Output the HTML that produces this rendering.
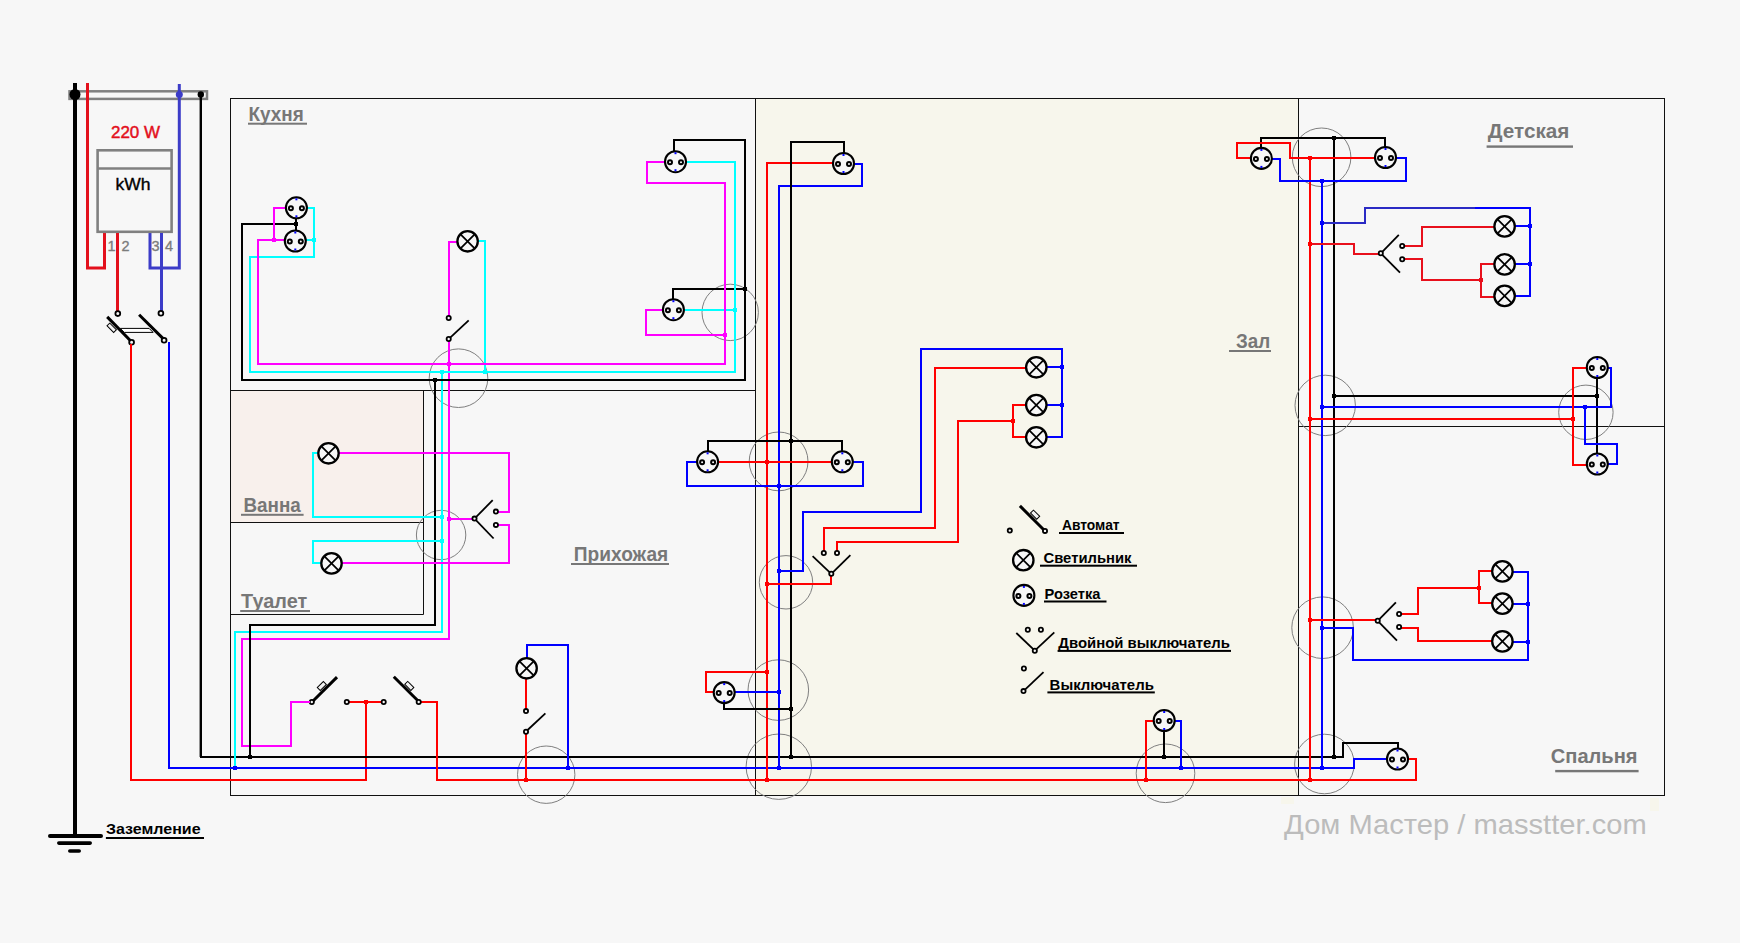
<!DOCTYPE html>
<html><head><meta charset="utf-8"><title>Схема электропроводки</title>
<style>
html,body{margin:0;padding:0;background:#f7f7f7;}
body{width:1740px;height:943px;overflow:hidden;font-family:"Liberation Sans",sans-serif;}
svg{display:block;}
</style></head>
<body>
<svg width="1740" height="943" viewBox="0 0 1740 943">
<rect x="0" y="0" width="1740" height="943" fill="#f7f7f7"/>
<rect x="756" y="99" width="542.5" height="696" fill="#f7f6ec"/>
<rect x="231" y="391" width="192.5" height="131" fill="#f8f0ec"/>
<rect x="1281" y="797" width="13" height="7" fill="#f7f6ec"/>
<rect x="1650" y="798" width="9" height="13" fill="#f7f6ec"/>
<rect x="230.5" y="98.5" width="1434" height="697" fill="none" stroke="#111" stroke-width="1"/>
<line x1="230.5" y1="390.5" x2="755.5" y2="390.5" stroke="#111" stroke-width="1" stroke-linecap="butt"/>
<line x1="755.5" y1="98.5" x2="755.5" y2="795.5" stroke="#111" stroke-width="1" stroke-linecap="butt"/>
<line x1="1298.5" y1="98.5" x2="1298.5" y2="795.5" stroke="#111" stroke-width="1" stroke-linecap="butt"/>
<line x1="1298.5" y1="426.5" x2="1664.5" y2="426.5" stroke="#111" stroke-width="1" stroke-linecap="butt"/>
<line x1="423.5" y1="390.5" x2="423.5" y2="614.5" stroke="#111" stroke-width="1" stroke-linecap="butt"/>
<line x1="230.5" y1="522.5" x2="423.5" y2="522.5" stroke="#111" stroke-width="1" stroke-linecap="butt"/>
<line x1="230.5" y1="614.5" x2="423.5" y2="614.5" stroke="#111" stroke-width="1" stroke-linecap="butt"/>
<circle cx="458.5" cy="378.2" r="29.3" fill="none" stroke="#7f7f7f" stroke-width="1"/>
<circle cx="730.2" cy="312.4" r="28.2" fill="none" stroke="#7f7f7f" stroke-width="1"/>
<circle cx="441.1" cy="535" r="24.7" fill="none" stroke="#7f7f7f" stroke-width="1"/>
<circle cx="546.2" cy="774.7" r="28.7" fill="none" stroke="#7f7f7f" stroke-width="1"/>
<circle cx="778.6" cy="461.4" r="29.4" fill="none" stroke="#7f7f7f" stroke-width="1"/>
<circle cx="786" cy="582.3" r="26.7" fill="none" stroke="#7f7f7f" stroke-width="1"/>
<circle cx="778.3" cy="690.1" r="30.3" fill="none" stroke="#7f7f7f" stroke-width="1"/>
<circle cx="778.8" cy="766.7" r="32.7" fill="none" stroke="#7f7f7f" stroke-width="1"/>
<circle cx="1165.5" cy="773.3" r="29.3" fill="none" stroke="#7f7f7f" stroke-width="1"/>
<circle cx="1321.6" cy="157.3" r="29.3" fill="none" stroke="#7f7f7f" stroke-width="1"/>
<circle cx="1325.2" cy="405.4" r="30.2" fill="none" stroke="#7f7f7f" stroke-width="1"/>
<circle cx="1585.9" cy="412.3" r="27.2" fill="none" stroke="#7f7f7f" stroke-width="1"/>
<circle cx="1322.6" cy="627.7" r="30.8" fill="none" stroke="#7f7f7f" stroke-width="1"/>
<circle cx="1324.4" cy="764" r="29.8" fill="none" stroke="#7f7f7f" stroke-width="1"/>
<rect x="69.5" y="91.3" width="137.5" height="7.6" fill="none" stroke="#808080" stroke-width="2.5"/>
<line x1="75" y1="83" x2="75" y2="836" stroke="#000000" stroke-width="4" stroke-linecap="butt"/>
<rect x="48" y="834" width="55" height="4" rx="2" fill="#000000"/>
<rect x="57" y="841.3" width="35" height="3.6" rx="1.8" fill="#000000"/>
<rect x="68" y="849.2" width="13" height="3.6" rx="1.8" fill="#000000"/>
<circle cx="75" cy="94.5" r="5.5" fill="#000000"/>
<polyline points="87.5,84.5 87.5,268 104.5,268 104.5,233" fill="none" stroke="#e3101c" stroke-width="3" stroke-linejoin="miter" stroke-linecap="square"/>
<polyline points="179.3,85.5 179.3,268 150,268 150,233" fill="none" stroke="#3c3cc8" stroke-width="3" stroke-linejoin="miter" stroke-linecap="square"/>
<circle cx="179.3" cy="94.5" r="3.5" fill="#3c3cc8"/>
<line x1="200.8" y1="94" x2="200.8" y2="757" stroke="#000000" stroke-width="2.4" stroke-linecap="butt"/>
<circle cx="200.8" cy="94.5" r="3.2" fill="#000000"/>
<rect x="97.6" y="150.3" width="74" height="81.5" fill="none" stroke="#808080" stroke-width="2.6"/>
<line x1="97.6" y1="168.5" x2="171.6" y2="168.5" stroke="#808080" stroke-width="2.6" stroke-linecap="butt"/>
<text x="111" y="138" font-family="Liberation Sans, sans-serif" font-size="16" font-weight="normal" fill="#e3101c" textLength="49" lengthAdjust="spacingAndGlyphs" stroke="#e3101c" stroke-width="0.45" text-anchor="start">220 W</text>
<text x="115.6" y="189.7" font-family="Liberation Sans, sans-serif" font-size="16.5" font-weight="normal" fill="#000000" textLength="35" lengthAdjust="spacingAndGlyphs" stroke="#000000" stroke-width="0.35" text-anchor="start">kWh</text>
<text x="107.5" y="250.6" font-family="Liberation Sans, sans-serif" font-size="14.5" font-weight="normal" fill="#7c7c7c" stroke="#7c7c7c" stroke-width="0.35" text-anchor="start">1</text>
<text x="121.5" y="250.6" font-family="Liberation Sans, sans-serif" font-size="14.5" font-weight="normal" fill="#7c7c7c" stroke="#7c7c7c" stroke-width="0.35" text-anchor="start">2</text>
<text x="151.5" y="250.6" font-family="Liberation Sans, sans-serif" font-size="14.5" font-weight="normal" fill="#7c7c7c" stroke="#7c7c7c" stroke-width="0.35" text-anchor="start">3</text>
<text x="165" y="250.6" font-family="Liberation Sans, sans-serif" font-size="14.5" font-weight="normal" fill="#7c7c7c" stroke="#7c7c7c" stroke-width="0.35" text-anchor="start">4</text>
<line x1="117.5" y1="233" x2="117.5" y2="311" stroke="#e3101c" stroke-width="3" stroke-linecap="butt"/>
<line x1="161.5" y1="233" x2="161.5" y2="311" stroke="#3c3cc8" stroke-width="3" stroke-linecap="butt"/>
<rect x="107.0" y="325.85" width="9.4" height="3.9" fill="#f2f2f2" stroke="#000000" stroke-width="1" transform="rotate(45 111.7 327.8)"/>
<line x1="107.2" y1="316.9" x2="131" y2="341.3" stroke="#000000" stroke-width="3" stroke-linecap="butt"/>
<line x1="139.1" y1="314.8" x2="163.9" y2="339.4" stroke="#000000" stroke-width="3" stroke-linecap="butt"/>
<path d="M120.3,328.4L149.1,328.4L153.1,332.4L124.3,332.4Z" fill="#fff" stroke="#000000" stroke-width="1"/>
<circle cx="117.8" cy="313.6" r="2.4" fill="#f7f7f7" stroke="#000000" stroke-width="1.8"/>
<circle cx="160.9" cy="313.2" r="2.4" fill="#f7f7f7" stroke="#000000" stroke-width="1.8"/>
<circle cx="131.6" cy="342.2" r="2.4" fill="#f7f7f7" stroke="#000000" stroke-width="1.8"/>
<circle cx="164.1" cy="340.2" r="2.4" fill="#f7f7f7" stroke="#000000" stroke-width="1.8"/>
<polyline points="131,345 131,780 366,780 366,702" fill="none" stroke="#ff0000" stroke-width="2" stroke-linejoin="miter" stroke-linecap="square"/>
<polyline points="169,343 169,768 1322,768" fill="none" stroke="#0000ff" stroke-width="2" stroke-linejoin="miter" stroke-linecap="square"/>
<polyline points="201,757 1334,757" fill="none" stroke="#000000" stroke-width="2" stroke-linejoin="miter" stroke-linecap="square"/>
<polyline points="437,702 437,780 1310,780" fill="none" stroke="#ff0000" stroke-width="2" stroke-linejoin="miter" stroke-linecap="square"/>
<line x1="346.8" y1="702" x2="383.7" y2="702" stroke="#ff0000" stroke-width="2" stroke-linecap="butt"/>
<rect x="364.0" y="700.0" width="4" height="4" fill="#ff0000"/>
<circle cx="346.8" cy="702" r="2.1" fill="#f7f7f7" stroke="#000000" stroke-width="1.8"/>
<circle cx="383.7" cy="702" r="2.1" fill="#f7f7f7" stroke="#000000" stroke-width="1.8"/>
<rect x="317.5" y="683.9" width="8.6" height="4.2" fill="#f2f2f2" stroke="#000000" stroke-width="1" transform="rotate(-45 321.8 686)"/>
<line x1="312" y1="702" x2="337" y2="677.1" stroke="#000000" stroke-width="3" stroke-linecap="butt"/>
<rect x="405.0" y="683.8" width="8.6" height="4.2" fill="#f2f2f2" stroke="#000000" stroke-width="1" transform="rotate(45 409.3 685.9)"/>
<line x1="419.2" y1="702" x2="393.8" y2="676.7" stroke="#000000" stroke-width="3" stroke-linecap="butt"/>
<polyline points="419,702 437,702" fill="none" stroke="#ff0000" stroke-width="2" stroke-linejoin="miter" stroke-linecap="square"/>
<circle cx="311.8" cy="702" r="2.1" fill="#f7f7f7" stroke="#000000" stroke-width="1.8"/>
<circle cx="418.7" cy="702" r="2.1" fill="#f7f7f7" stroke="#000000" stroke-width="1.8"/>
<polyline points="309,702 291,702 291,746 242,746 242,639 449,639 449,342" fill="none" stroke="#ff00ff" stroke-width="2" stroke-linejoin="miter" stroke-linecap="square"/>
<polyline points="449,242 449,316" fill="none" stroke="#ff00ff" stroke-width="2" stroke-linejoin="miter" stroke-linecap="square"/>
<polyline points="442,372 442,632 235,632 235,768" fill="none" stroke="#00ffff" stroke-width="2" stroke-linejoin="miter" stroke-linecap="square"/>
<rect x="233.0" y="766.0" width="4" height="4" fill="#0000ff"/>
<polyline points="435,380 435,625 250,625 250,757" fill="none" stroke="#000000" stroke-width="2" stroke-linejoin="miter" stroke-linecap="square"/>
<rect x="248.0" y="755.0" width="4" height="4" fill="#000000"/>
<polyline points="242,224 242,380 745,380 745,140 674,140 674,151" fill="none" stroke="#000000" stroke-width="2" stroke-linejoin="miter" stroke-linecap="square"/>
<polyline points="242,224 296,224" fill="none" stroke="#000000" stroke-width="2" stroke-linejoin="miter" stroke-linecap="square"/>
<line x1="296" y1="218.5" x2="296" y2="230.5" stroke="#000000" stroke-width="2" stroke-linecap="butt"/>
<rect x="294.0" y="222.0" width="4" height="4" fill="#000000"/>
<polyline points="745,289 673,289 673,299" fill="none" stroke="#000000" stroke-width="2" stroke-linejoin="miter" stroke-linecap="square"/>
<rect x="743.0" y="287.0" width="4" height="4" fill="#000000"/>
<rect x="433.0" y="378.0" width="4" height="4" fill="#000000"/>
<polyline points="314,208 314,257 250,257 250,372 735,372 735,162 686,162" fill="none" stroke="#00ffff" stroke-width="2" stroke-linejoin="miter" stroke-linecap="square"/>
<polyline points="306,240 314,240" fill="none" stroke="#00ffff" stroke-width="2" stroke-linejoin="miter" stroke-linecap="square"/>
<rect x="312.0" y="238.0" width="4" height="4" fill="#00ffff"/>
<polyline points="735,310 684,310" fill="none" stroke="#00ffff" stroke-width="2" stroke-linejoin="miter" stroke-linecap="square"/>
<rect x="733.0" y="308.0" width="4" height="4" fill="#00ffff"/>
<polyline points="478,241 485,241 485,372" fill="none" stroke="#00ffff" stroke-width="2" stroke-linejoin="miter" stroke-linecap="square"/>
<rect x="483.0" y="370.0" width="4" height="4" fill="#00ffff"/>
<rect x="440.0" y="370.0" width="4" height="4" fill="#00ffff"/>
<polyline points="307,208 314,208" fill="none" stroke="#00ffff" stroke-width="2" stroke-linejoin="miter" stroke-linecap="square"/>
<polyline points="285,208 274,208 274,240" fill="none" stroke="#ff00ff" stroke-width="2" stroke-linejoin="miter" stroke-linecap="square"/>
<polyline points="284,240 258,240 258,364 725,364 725,183 647,183 647,162 665,162" fill="none" stroke="#ff00ff" stroke-width="2" stroke-linejoin="miter" stroke-linecap="square"/>
<rect x="272.0" y="238.0" width="4" height="4" fill="#ff00ff"/>
<polyline points="663,310 646,310 646,335 725,335" fill="none" stroke="#ff00ff" stroke-width="2" stroke-linejoin="miter" stroke-linecap="square"/>
<rect x="723.0" y="333.0" width="4" height="4" fill="#ff00ff"/>
<rect x="447.0" y="362.0" width="4" height="4" fill="#ff00ff"/>
<polyline points="449,242 456,242" fill="none" stroke="#ff00ff" stroke-width="2" stroke-linejoin="miter" stroke-linecap="square"/>
<circle cx="448.7" cy="318" r="2.1" fill="#f7f7f7" stroke="#000000" stroke-width="1.8"/>
<circle cx="448.7" cy="339" r="2.1" fill="#f7f7f7" stroke="#000000" stroke-width="1.8"/>
<line x1="450.2" y1="337.6" x2="468.7" y2="320.3" stroke="#000000" stroke-width="1.8" stroke-linecap="butt"/>
<circle cx="296.4" cy="207.8" r="10.5" fill="#f7f7f7" stroke="#000000" stroke-width="2.1"/>
<circle cx="290.9" cy="208.3" r="2" fill="#f7f7f7" stroke="#000000" stroke-width="2"/>
<circle cx="301.9" cy="208.3" r="2" fill="#f7f7f7" stroke="#000000" stroke-width="2"/>
<rect x="295.4" y="198.3" width="2" height="2" fill="#0000ff"/>
<rect x="295.4" y="215.3" width="2" height="2" fill="#0000ff"/>
<circle cx="295.3" cy="241" r="10.5" fill="#f7f7f7" stroke="#000000" stroke-width="2.1"/>
<circle cx="289.8" cy="241.5" r="2" fill="#f7f7f7" stroke="#000000" stroke-width="2"/>
<circle cx="300.8" cy="241.5" r="2" fill="#f7f7f7" stroke="#000000" stroke-width="2"/>
<rect x="294.3" y="231.5" width="2" height="2" fill="#0000ff"/>
<rect x="294.3" y="248.5" width="2" height="2" fill="#0000ff"/>
<circle cx="467.6" cy="241.3" r="10.2" fill="#f7f7f7" stroke="#000000" stroke-width="2.3"/>
<path d="M460.6,234.3L474.6,248.3M474.6,234.3L460.6,248.3" stroke="#000000" stroke-width="1.7"/>
<circle cx="675.5" cy="161.7" r="10.5" fill="#f7f7f7" stroke="#000000" stroke-width="2.1"/>
<circle cx="670.0" cy="162.2" r="2" fill="#f7f7f7" stroke="#000000" stroke-width="2"/>
<circle cx="681.0" cy="162.2" r="2" fill="#f7f7f7" stroke="#000000" stroke-width="2"/>
<rect x="674.5" y="152.2" width="2" height="2" fill="#0000ff"/>
<rect x="674.5" y="169.2" width="2" height="2" fill="#0000ff"/>
<circle cx="673.4" cy="309.7" r="10.5" fill="#f7f7f7" stroke="#000000" stroke-width="2.1"/>
<circle cx="667.9" cy="310.2" r="2" fill="#f7f7f7" stroke="#000000" stroke-width="2"/>
<circle cx="678.9" cy="310.2" r="2" fill="#f7f7f7" stroke="#000000" stroke-width="2"/>
<rect x="672.4" y="300.2" width="2" height="2" fill="#0000ff"/>
<rect x="672.4" y="317.2" width="2" height="2" fill="#0000ff"/>
<polyline points="317,453 313,453 313,517 442,517" fill="none" stroke="#00ffff" stroke-width="2" stroke-linejoin="miter" stroke-linecap="square"/>
<polyline points="320,563 313,563 313,541 442,541" fill="none" stroke="#00ffff" stroke-width="2" stroke-linejoin="miter" stroke-linecap="square"/>
<rect x="440.0" y="515.0" width="4" height="4" fill="#00ffff"/>
<rect x="440.0" y="539.0" width="4" height="4" fill="#00ffff"/>
<polyline points="340,453 509,453 509,512 496,512" fill="none" stroke="#ff00ff" stroke-width="2" stroke-linejoin="miter" stroke-linecap="square"/>
<polyline points="343,563 509,563 509,525 496,525" fill="none" stroke="#ff00ff" stroke-width="2" stroke-linejoin="miter" stroke-linecap="square"/>
<polyline points="449,519 475,519" fill="none" stroke="#ff00ff" stroke-width="2" stroke-linejoin="miter" stroke-linecap="square"/>
<rect x="447.0" y="517.0" width="4" height="4" fill="#ff00ff"/>
<line x1="474.5" y1="518.6" x2="492.7" y2="500.2" stroke="#000000" stroke-width="1.8" stroke-linecap="butt"/>
<line x1="474.5" y1="518.6" x2="493.6" y2="538.5" stroke="#000000" stroke-width="1.8" stroke-linecap="butt"/>
<circle cx="474.5" cy="518.6" r="2.1" fill="#f7f7f7" stroke="#000000" stroke-width="1.8"/>
<circle cx="495.9" cy="511.6" r="2.1" fill="#f7f7f7" stroke="#000000" stroke-width="1.8"/>
<circle cx="495.9" cy="524.9" r="2.1" fill="#f7f7f7" stroke="#000000" stroke-width="1.8"/>
<circle cx="328.5" cy="453.3" r="10.2" fill="#f7f7f7" stroke="#000000" stroke-width="2.3"/>
<path d="M321.5,446.3L335.5,460.3M335.5,446.3L321.5,460.3" stroke="#000000" stroke-width="1.7"/>
<circle cx="331.5" cy="563.4" r="10.2" fill="#f7f7f7" stroke="#000000" stroke-width="2.3"/>
<path d="M324.5,556.4L338.5,570.4M338.5,556.4L324.5,570.4" stroke="#000000" stroke-width="1.7"/>
<polyline points="527,657 527,645 568,645 568,768" fill="none" stroke="#0000ff" stroke-width="2" stroke-linejoin="miter" stroke-linecap="square"/>
<rect x="566.0" y="766.0" width="4" height="4" fill="#0000ff"/>
<polyline points="526,680 526,709" fill="none" stroke="#ff0000" stroke-width="2" stroke-linejoin="miter" stroke-linecap="square"/>
<polyline points="526,734 526,780" fill="none" stroke="#ff0000" stroke-width="2" stroke-linejoin="miter" stroke-linecap="square"/>
<rect x="524.0" y="778.0" width="4" height="4" fill="#ff0000"/>
<circle cx="526" cy="711.1" r="2.1" fill="#f7f7f7" stroke="#000000" stroke-width="1.8"/>
<circle cx="526" cy="731.8" r="2.1" fill="#f7f7f7" stroke="#000000" stroke-width="1.8"/>
<line x1="527.6" y1="730" x2="545.4" y2="713.3" stroke="#000000" stroke-width="1.8" stroke-linecap="butt"/>
<circle cx="526.6" cy="668.3" r="10.2" fill="#f7f7f7" stroke="#000000" stroke-width="2.3"/>
<path d="M519.6,661.3L533.6,675.3M533.6,661.3L519.6,675.3" stroke="#000000" stroke-width="1.7"/>
<polyline points="832,163 767,163 767,780" fill="none" stroke="#ff0000" stroke-width="2" stroke-linejoin="miter" stroke-linecap="square"/>
<polyline points="855,164 862,164 862,186 779,186 779,768" fill="none" stroke="#0000ff" stroke-width="2" stroke-linejoin="miter" stroke-linecap="square"/>
<polyline points="791,757 791,142 844,142 844,152" fill="none" stroke="#000000" stroke-width="2" stroke-linejoin="miter" stroke-linecap="square"/>
<rect x="765.0" y="778.0" width="4" height="4" fill="#ff0000"/>
<rect x="777.0" y="766.0" width="4" height="4" fill="#0000ff"/>
<rect x="789.0" y="755.0" width="4" height="4" fill="#000000"/>
<circle cx="843.5" cy="163.5" r="10.5" fill="#f7f7f7" stroke="#000000" stroke-width="2.1"/>
<circle cx="838.0" cy="164.0" r="2" fill="#f7f7f7" stroke="#000000" stroke-width="2"/>
<circle cx="849.0" cy="164.0" r="2" fill="#f7f7f7" stroke="#000000" stroke-width="2"/>
<rect x="842.5" y="154.0" width="2" height="2" fill="#0000ff"/>
<rect x="842.5" y="171.0" width="2" height="2" fill="#0000ff"/>
<polyline points="708,451 708,441 842,441 842,451" fill="none" stroke="#000000" stroke-width="2" stroke-linejoin="miter" stroke-linecap="square"/>
<rect x="789.0" y="439.0" width="4" height="4" fill="#000000"/>
<polyline points="718,462 831,462" fill="none" stroke="#ff0000" stroke-width="2" stroke-linejoin="miter" stroke-linecap="square"/>
<rect x="765.0" y="460.0" width="4" height="4" fill="#ff0000"/>
<polyline points="697,462 687,462 687,486 863,486 863,462 854,462" fill="none" stroke="#0000ff" stroke-width="2" stroke-linejoin="miter" stroke-linecap="square"/>
<rect x="777.0" y="484.0" width="4" height="4" fill="#0000ff"/>
<circle cx="707.6" cy="461.8" r="10.5" fill="#f7f7f7" stroke="#000000" stroke-width="2.1"/>
<circle cx="702.1" cy="462.3" r="2" fill="#f7f7f7" stroke="#000000" stroke-width="2"/>
<circle cx="713.1" cy="462.3" r="2" fill="#f7f7f7" stroke="#000000" stroke-width="2"/>
<rect x="706.6" y="452.3" width="2" height="2" fill="#0000ff"/>
<rect x="706.6" y="469.3" width="2" height="2" fill="#0000ff"/>
<circle cx="842.3" cy="461.8" r="10.5" fill="#f7f7f7" stroke="#000000" stroke-width="2.1"/>
<circle cx="836.8" cy="462.3" r="2" fill="#f7f7f7" stroke="#000000" stroke-width="2"/>
<circle cx="847.8" cy="462.3" r="2" fill="#f7f7f7" stroke="#000000" stroke-width="2"/>
<rect x="841.3" y="452.3" width="2" height="2" fill="#0000ff"/>
<rect x="841.3" y="469.3" width="2" height="2" fill="#0000ff"/>
<polyline points="713,692 706,692 706,672 767,672" fill="none" stroke="#ff0000" stroke-width="2" stroke-linejoin="miter" stroke-linecap="square"/>
<rect x="765.0" y="670.0" width="4" height="4" fill="#ff0000"/>
<polyline points="735,692 779,692" fill="none" stroke="#0000ff" stroke-width="2" stroke-linejoin="miter" stroke-linecap="square"/>
<rect x="777.0" y="690.0" width="4" height="4" fill="#0000ff"/>
<polyline points="724,703 724,709 791,709" fill="none" stroke="#000000" stroke-width="2" stroke-linejoin="miter" stroke-linecap="square"/>
<rect x="789.0" y="707.0" width="4" height="4" fill="#000000"/>
<circle cx="724.2" cy="692.6" r="10.5" fill="#f7f7f7" stroke="#000000" stroke-width="2.1"/>
<circle cx="718.7" cy="693.1" r="2" fill="#f7f7f7" stroke="#000000" stroke-width="2"/>
<circle cx="729.7" cy="693.1" r="2" fill="#f7f7f7" stroke="#000000" stroke-width="2"/>
<rect x="723.2" y="683.1" width="2" height="2" fill="#0000ff"/>
<rect x="723.2" y="700.1" width="2" height="2" fill="#0000ff"/>
<polyline points="779,571 803,571 803,512 921,512 921,349 1062,349 1062,437 1047,437" fill="none" stroke="#0000ff" stroke-width="2" stroke-linejoin="miter" stroke-linecap="square"/>
<rect x="777.0" y="569.0" width="4" height="4" fill="#0000ff"/>
<polyline points="1047,367 1062,367" fill="none" stroke="#0000ff" stroke-width="2" stroke-linejoin="miter" stroke-linecap="square"/>
<polyline points="1047,405 1062,405" fill="none" stroke="#0000ff" stroke-width="2" stroke-linejoin="miter" stroke-linecap="square"/>
<rect x="1060.0" y="365.0" width="4" height="4" fill="#0000ff"/>
<rect x="1060.0" y="403.0" width="4" height="4" fill="#0000ff"/>
<polyline points="767,584 831,584 831,576" fill="none" stroke="#ff0000" stroke-width="2" stroke-linejoin="miter" stroke-linecap="square"/>
<rect x="765.0" y="582.0" width="4" height="4" fill="#ff0000"/>
<polyline points="824,551 824,528 935,528 935,368 1026,368" fill="none" stroke="#ff0000" stroke-width="2" stroke-linejoin="miter" stroke-linecap="square"/>
<polyline points="837,551 837,542 958,542 958,421 1013,421" fill="none" stroke="#ff0000" stroke-width="2" stroke-linejoin="miter" stroke-linecap="square"/>
<polyline points="1026,405 1013,405 1013,437 1026,437" fill="none" stroke="#ff0000" stroke-width="2" stroke-linejoin="miter" stroke-linecap="square"/>
<rect x="1011.0" y="419.0" width="4" height="4" fill="#ff0000"/>
<line x1="831.3" y1="573.8" x2="812.6" y2="556.2" stroke="#000000" stroke-width="1.8" stroke-linecap="butt"/>
<line x1="831.3" y1="573.8" x2="850.4" y2="555.2" stroke="#000000" stroke-width="1.8" stroke-linecap="butt"/>
<circle cx="831.3" cy="573.8" r="2.1" fill="#f7f7f7" stroke="#000000" stroke-width="1.8"/>
<circle cx="823.8" cy="553" r="2.1" fill="#f7f7f7" stroke="#000000" stroke-width="1.8"/>
<circle cx="837" cy="553" r="2.1" fill="#f7f7f7" stroke="#000000" stroke-width="1.8"/>
<circle cx="1036.3" cy="367.3" r="10.2" fill="#f7f7f7" stroke="#000000" stroke-width="2.3"/>
<path d="M1029.3,360.3L1043.3,374.3M1043.3,360.3L1029.3,374.3" stroke="#000000" stroke-width="1.7"/>
<circle cx="1036.3" cy="405.1" r="10.2" fill="#f7f7f7" stroke="#000000" stroke-width="2.3"/>
<path d="M1029.3,398.1L1043.3,412.1M1043.3,398.1L1029.3,412.1" stroke="#000000" stroke-width="1.7"/>
<circle cx="1036.3" cy="437.3" r="10.2" fill="#f7f7f7" stroke="#000000" stroke-width="2.3"/>
<path d="M1029.3,430.3L1043.3,444.3M1043.3,430.3L1029.3,444.3" stroke="#000000" stroke-width="1.7"/>
<polyline points="1164,731 1164,757" fill="none" stroke="#000000" stroke-width="2" stroke-linejoin="miter" stroke-linecap="square"/>
<rect x="1162.0" y="755.0" width="4" height="4" fill="#000000"/>
<polyline points="1153,721 1146,721 1146,780" fill="none" stroke="#ff0000" stroke-width="2" stroke-linejoin="miter" stroke-linecap="square"/>
<rect x="1144.0" y="778.0" width="4" height="4" fill="#ff0000"/>
<polyline points="1175,721 1181,721 1181,768" fill="none" stroke="#0000ff" stroke-width="2" stroke-linejoin="miter" stroke-linecap="square"/>
<rect x="1179.0" y="766.0" width="4" height="4" fill="#0000ff"/>
<circle cx="1164.2" cy="720.5" r="10.5" fill="#f7f7f7" stroke="#000000" stroke-width="2.1"/>
<circle cx="1158.7" cy="721.0" r="2" fill="#f7f7f7" stroke="#000000" stroke-width="2"/>
<circle cx="1169.7" cy="721.0" r="2" fill="#f7f7f7" stroke="#000000" stroke-width="2"/>
<rect x="1163.2" y="711.0" width="2" height="2" fill="#0000ff"/>
<rect x="1163.2" y="728.0" width="2" height="2" fill="#0000ff"/>
<polyline points="1310,158 1310,780" fill="none" stroke="#ff0000" stroke-width="2" stroke-linejoin="miter" stroke-linecap="square"/>
<polyline points="1322,181 1322,768" fill="none" stroke="#0000ff" stroke-width="2" stroke-linejoin="miter" stroke-linecap="square"/>
<polyline points="1334,138 1334,757" fill="none" stroke="#000000" stroke-width="2" stroke-linejoin="miter" stroke-linecap="square"/>
<rect x="1308.0" y="778.0" width="4" height="4" fill="#ff0000"/>
<rect x="1320.0" y="766.0" width="4" height="4" fill="#0000ff"/>
<rect x="1332.0" y="755.0" width="4" height="4" fill="#000000"/>
<rect x="1238.5" y="144" width="12" height="13" fill="#eef3ea"/>
<polyline points="1261,148 1261,138 1385,138 1385,147" fill="none" stroke="#000000" stroke-width="2" stroke-linejoin="miter" stroke-linecap="square"/>
<rect x="1332.0" y="136.0" width="4" height="4" fill="#000000"/>
<polyline points="1251,158 1237,158 1237,143 1290,143 1290,158 1375,158" fill="none" stroke="#ff0000" stroke-width="2" stroke-linejoin="miter" stroke-linecap="square"/>
<rect x="1308.0" y="156.0" width="4" height="4" fill="#ff0000"/>
<polyline points="1272,159 1280,159 1280,181 1406,181 1406,158 1397,158" fill="none" stroke="#0000ff" stroke-width="2" stroke-linejoin="miter" stroke-linecap="square"/>
<rect x="1320.0" y="179.0" width="4" height="4" fill="#0000ff"/>
<circle cx="1261.4" cy="158.4" r="10.5" fill="#f7f7f7" stroke="#000000" stroke-width="2.1"/>
<circle cx="1255.9" cy="158.9" r="2" fill="#f7f7f7" stroke="#000000" stroke-width="2"/>
<circle cx="1266.9" cy="158.9" r="2" fill="#f7f7f7" stroke="#000000" stroke-width="2"/>
<rect x="1260.4" y="148.9" width="2" height="2" fill="#0000ff"/>
<rect x="1260.4" y="165.9" width="2" height="2" fill="#0000ff"/>
<circle cx="1385.5" cy="157.5" r="10.5" fill="#f7f7f7" stroke="#000000" stroke-width="2.1"/>
<circle cx="1380.0" cy="158.0" r="2" fill="#f7f7f7" stroke="#000000" stroke-width="2"/>
<circle cx="1391.0" cy="158.0" r="2" fill="#f7f7f7" stroke="#000000" stroke-width="2"/>
<rect x="1384.5" y="148.0" width="2" height="2" fill="#0000ff"/>
<rect x="1384.5" y="165.0" width="2" height="2" fill="#0000ff"/>
<polyline points="1474,208 1530,208 1530,296 1516,296" fill="none" stroke="#0000ff" stroke-width="2" stroke-linejoin="miter" stroke-linecap="square"/>
<polyline points="1322,223 1365,223 1365,208 1474,208" fill="none" stroke="#2a2ac4" stroke-width="2" stroke-linejoin="miter" stroke-linecap="square"/>
<rect x="1320.0" y="221.0" width="4" height="4" fill="#0000ff"/>
<polyline points="1516,226 1530,226" fill="none" stroke="#0000ff" stroke-width="2" stroke-linejoin="miter" stroke-linecap="square"/>
<polyline points="1516,264 1530,264" fill="none" stroke="#0000ff" stroke-width="2" stroke-linejoin="miter" stroke-linecap="square"/>
<rect x="1528.0" y="224.0" width="4" height="4" fill="#0000ff"/>
<rect x="1528.0" y="262.0" width="4" height="4" fill="#0000ff"/>
<polyline points="1310,244 1354,244 1354,254 1379,254" fill="none" stroke="#e8101c" stroke-width="2" stroke-linejoin="miter" stroke-linecap="square"/>
<rect x="1308.0" y="242.0" width="4" height="4" fill="#ff0000"/>
<polyline points="1405,246 1422,246 1422,227 1494,227" fill="none" stroke="#e8101c" stroke-width="2" stroke-linejoin="miter" stroke-linecap="square"/>
<polyline points="1405,259 1422,259 1422,280 1481,280" fill="none" stroke="#e8101c" stroke-width="2" stroke-linejoin="miter" stroke-linecap="square"/>
<polyline points="1494,264 1481,264 1481,297 1494,297" fill="none" stroke="#e8101c" stroke-width="2" stroke-linejoin="miter" stroke-linecap="square"/>
<rect x="1479.0" y="278.0" width="4" height="4" fill="#e8101c"/>
<line x1="1380.8" y1="253.3" x2="1398.8" y2="234.8" stroke="#000000" stroke-width="1.8" stroke-linecap="butt"/>
<line x1="1380.8" y1="253.3" x2="1400" y2="272.6" stroke="#000000" stroke-width="1.8" stroke-linecap="butt"/>
<circle cx="1380.8" cy="253.3" r="2.1" fill="#f7f7f7" stroke="#000000" stroke-width="1.8"/>
<circle cx="1402.2" cy="245.9" r="2.1" fill="#f7f7f7" stroke="#000000" stroke-width="1.8"/>
<circle cx="1402.2" cy="259.3" r="2.1" fill="#f7f7f7" stroke="#000000" stroke-width="1.8"/>
<circle cx="1504.6" cy="226.4" r="10.2" fill="#f7f7f7" stroke="#000000" stroke-width="2.3"/>
<path d="M1497.6,219.4L1511.6,233.4M1511.6,219.4L1497.6,233.4" stroke="#000000" stroke-width="1.7"/>
<circle cx="1504.6" cy="264.4" r="10.2" fill="#f7f7f7" stroke="#000000" stroke-width="2.3"/>
<path d="M1497.6,257.4L1511.6,271.4M1511.6,257.4L1497.6,271.4" stroke="#000000" stroke-width="1.7"/>
<circle cx="1504.6" cy="295.9" r="10.2" fill="#f7f7f7" stroke="#000000" stroke-width="2.3"/>
<path d="M1497.6,288.9L1511.6,302.9M1511.6,288.9L1497.6,302.9" stroke="#000000" stroke-width="1.7"/>
<polyline points="1334,396 1597,396" fill="none" stroke="#000000" stroke-width="2" stroke-linejoin="miter" stroke-linecap="square"/>
<rect x="1332.0" y="394.0" width="4" height="4" fill="#000000"/>
<rect x="1595.0" y="394.0" width="4" height="4" fill="#000000"/>
<polyline points="1597,379 1597,454" fill="none" stroke="#000000" stroke-width="2" stroke-linejoin="miter" stroke-linecap="square"/>
<polyline points="1322,407 1611,407 1611,368 1609,368" fill="none" stroke="#0000ff" stroke-width="2" stroke-linejoin="miter" stroke-linecap="square"/>
<rect x="1320.0" y="405.0" width="4" height="4" fill="#0000ff"/>
<polyline points="1585,407 1585,444 1617,444 1617,464 1609,464" fill="none" stroke="#0000ff" stroke-width="2" stroke-linejoin="miter" stroke-linecap="square"/>
<rect x="1583.0" y="405.0" width="4" height="4" fill="#0000ff"/>
<polyline points="1310,419 1573,419" fill="none" stroke="#ff0000" stroke-width="2" stroke-linejoin="miter" stroke-linecap="square"/>
<rect x="1308.0" y="417.0" width="4" height="4" fill="#ff0000"/>
<rect x="1571.0" y="417.0" width="4" height="4" fill="#ff0000"/>
<polyline points="1586,368 1573,368 1573,465 1586,465" fill="none" stroke="#ff0000" stroke-width="2" stroke-linejoin="miter" stroke-linecap="square"/>
<circle cx="1597.3" cy="367.5" r="10.5" fill="#f7f7f7" stroke="#000000" stroke-width="2.1"/>
<circle cx="1591.8" cy="368.0" r="2" fill="#f7f7f7" stroke="#000000" stroke-width="2"/>
<circle cx="1602.8" cy="368.0" r="2" fill="#f7f7f7" stroke="#000000" stroke-width="2"/>
<rect x="1596.3" y="358.0" width="2" height="2" fill="#0000ff"/>
<rect x="1596.3" y="375.0" width="2" height="2" fill="#0000ff"/>
<circle cx="1597.3" cy="464" r="10.5" fill="#f7f7f7" stroke="#000000" stroke-width="2.1"/>
<circle cx="1591.8" cy="464.5" r="2" fill="#f7f7f7" stroke="#000000" stroke-width="2"/>
<circle cx="1602.8" cy="464.5" r="2" fill="#f7f7f7" stroke="#000000" stroke-width="2"/>
<rect x="1596.3" y="454.5" width="2" height="2" fill="#0000ff"/>
<rect x="1596.3" y="471.5" width="2" height="2" fill="#0000ff"/>
<polyline points="1310,620 1376,620" fill="none" stroke="#ff0000" stroke-width="2" stroke-linejoin="miter" stroke-linecap="square"/>
<rect x="1308.0" y="618.0" width="4" height="4" fill="#ff0000"/>
<polyline points="1322,628 1353,628 1353,660 1528,660 1528,572 1514,572" fill="none" stroke="#0000ff" stroke-width="2" stroke-linejoin="miter" stroke-linecap="square"/>
<rect x="1320.0" y="626.0" width="4" height="4" fill="#0000ff"/>
<polyline points="1514,604 1528,604" fill="none" stroke="#0000ff" stroke-width="2" stroke-linejoin="miter" stroke-linecap="square"/>
<polyline points="1514,642 1528,642" fill="none" stroke="#0000ff" stroke-width="2" stroke-linejoin="miter" stroke-linecap="square"/>
<rect x="1526.0" y="602.0" width="4" height="4" fill="#0000ff"/>
<rect x="1526.0" y="640.0" width="4" height="4" fill="#0000ff"/>
<polyline points="1402,614 1418,614 1418,588 1479,588" fill="none" stroke="#ff0000" stroke-width="2" stroke-linejoin="miter" stroke-linecap="square"/>
<rect x="1477.0" y="586.0" width="4" height="4" fill="#ff0000"/>
<polyline points="1491,571 1479,571 1479,603 1491,603" fill="none" stroke="#ff0000" stroke-width="2" stroke-linejoin="miter" stroke-linecap="square"/>
<polyline points="1402,628 1418,628 1418,641 1491,641" fill="none" stroke="#ff0000" stroke-width="2" stroke-linejoin="miter" stroke-linecap="square"/>
<line x1="1377.7" y1="620.8" x2="1395.9" y2="602.3" stroke="#000000" stroke-width="1.8" stroke-linecap="butt"/>
<line x1="1377.7" y1="620.8" x2="1397" y2="640.6" stroke="#000000" stroke-width="1.8" stroke-linecap="butt"/>
<circle cx="1377.7" cy="620.8" r="2.1" fill="#f7f7f7" stroke="#000000" stroke-width="1.8"/>
<circle cx="1399.1" cy="614" r="2.1" fill="#f7f7f7" stroke="#000000" stroke-width="1.8"/>
<circle cx="1399.1" cy="626.9" r="2.1" fill="#f7f7f7" stroke="#000000" stroke-width="1.8"/>
<circle cx="1502.4" cy="571.4" r="10.2" fill="#f7f7f7" stroke="#000000" stroke-width="2.3"/>
<path d="M1495.4,564.4L1509.4,578.4M1509.4,564.4L1495.4,578.4" stroke="#000000" stroke-width="1.7"/>
<circle cx="1502.4" cy="603.6" r="10.2" fill="#f7f7f7" stroke="#000000" stroke-width="2.3"/>
<path d="M1495.4,596.6L1509.4,610.6M1509.4,596.6L1495.4,610.6" stroke="#000000" stroke-width="1.7"/>
<circle cx="1502.4" cy="641.4" r="10.2" fill="#f7f7f7" stroke="#000000" stroke-width="2.3"/>
<path d="M1495.4,634.4L1509.4,648.4M1509.4,634.4L1495.4,648.4" stroke="#000000" stroke-width="1.7"/>
<polyline points="1334,757 1343,757 1343,743 1398,743 1398,748" fill="none" stroke="#000000" stroke-width="2" stroke-linejoin="miter" stroke-linecap="square"/>
<polyline points="1322,768 1354,768 1354,759 1387,759" fill="none" stroke="#0000ff" stroke-width="2" stroke-linejoin="miter" stroke-linecap="square"/>
<polyline points="1310,780 1416,780 1416,759 1409,759" fill="none" stroke="#ff0000" stroke-width="2" stroke-linejoin="miter" stroke-linecap="square"/>
<circle cx="1397.5" cy="759" r="10.5" fill="#f7f7f7" stroke="#000000" stroke-width="2.1"/>
<circle cx="1392.0" cy="759.5" r="2" fill="#f7f7f7" stroke="#000000" stroke-width="2"/>
<circle cx="1403.0" cy="759.5" r="2" fill="#f7f7f7" stroke="#000000" stroke-width="2"/>
<rect x="1396.5" y="749.5" width="2" height="2" fill="#0000ff"/>
<rect x="1396.5" y="766.5" width="2" height="2" fill="#0000ff"/>
<circle cx="1009.8" cy="530.6" r="2.1" fill="#f7f7f7" stroke="#000000" stroke-width="1.8"/>
<rect x="1030.6999999999998" y="512.6" width="8.8" height="4.2" fill="#f2f2f2" stroke="#000000" stroke-width="1" transform="rotate(45 1035.1 514.7)"/>
<line x1="1019.9" y1="505.9" x2="1045" y2="531" stroke="#000000" stroke-width="3" stroke-linecap="butt"/>
<circle cx="1045" cy="530.9" r="2.1" fill="#f7f7f7" stroke="#000000" stroke-width="1.8"/>
<circle cx="1023.3" cy="560.2" r="10.2" fill="#f7f7f7" stroke="#000000" stroke-width="2.3"/>
<path d="M1016.3,553.2L1030.3,567.2M1030.3,553.2L1016.3,567.2" stroke="#000000" stroke-width="1.7"/>
<circle cx="1023.9" cy="595.4" r="10.5" fill="#f7f7f7" stroke="#000000" stroke-width="2.1"/>
<circle cx="1018.4" cy="595.9" r="2" fill="#f7f7f7" stroke="#000000" stroke-width="2"/>
<circle cx="1029.4" cy="595.9" r="2" fill="#f7f7f7" stroke="#000000" stroke-width="2"/>
<rect x="1022.9" y="585.9" width="2" height="2" fill="#0000ff"/>
<rect x="1022.9" y="602.9" width="2" height="2" fill="#0000ff"/>
<circle cx="1027.8" cy="629.8" r="2.1" fill="#f7f7f7" stroke="#000000" stroke-width="1.8"/>
<circle cx="1040.9" cy="629.8" r="2.1" fill="#f7f7f7" stroke="#000000" stroke-width="1.8"/>
<line x1="1016.3" y1="633" x2="1034.8" y2="650.7" stroke="#000000" stroke-width="1.8" stroke-linecap="butt"/>
<line x1="1054.3" y1="632.4" x2="1034.8" y2="650.7" stroke="#000000" stroke-width="1.8" stroke-linecap="butt"/>
<circle cx="1034.8" cy="650.7" r="2.1" fill="#f7f7f7" stroke="#000000" stroke-width="1.8"/>
<circle cx="1023.9" cy="668.5" r="2.1" fill="#f7f7f7" stroke="#000000" stroke-width="1.8"/>
<line x1="1025" y1="689.6" x2="1043.5" y2="672.2" stroke="#000000" stroke-width="1.8" stroke-linecap="butt"/>
<circle cx="1023.5" cy="691.1" r="2.1" fill="#f7f7f7" stroke="#000000" stroke-width="1.8"/>
<text x="1062" y="529.8" font-family="Liberation Sans, sans-serif" font-size="14.2" font-weight="bold" fill="#000000" textLength="57.6" lengthAdjust="spacingAndGlyphs" text-anchor="start">Автомат</text>
<rect x="1059" y="532.0" width="65" height="2" fill="#000000"/>
<text x="1043.5" y="562.8" font-family="Liberation Sans, sans-serif" font-size="14.2" font-weight="bold" fill="#000000" textLength="88" lengthAdjust="spacingAndGlyphs" text-anchor="start">Светильник</text>
<rect x="1040" y="564.7" width="97" height="2" fill="#000000"/>
<text x="1044.6" y="598.7" font-family="Liberation Sans, sans-serif" font-size="14.2" font-weight="bold" fill="#000000" textLength="55.8" lengthAdjust="spacingAndGlyphs" text-anchor="start">Розетка</text>
<rect x="1044" y="600.5" width="62.5" height="2" fill="#000000"/>
<text x="1058.3" y="648.3" font-family="Liberation Sans, sans-serif" font-size="14.2" font-weight="bold" fill="#000000" textLength="171.7" lengthAdjust="spacingAndGlyphs" text-anchor="start">Двойной выключатель</text>
<rect x="1057.6" y="649.9" width="173.4000000000001" height="2" fill="#000000"/>
<text x="1049.6" y="689.6" font-family="Liberation Sans, sans-serif" font-size="14.2" font-weight="bold" fill="#000000" textLength="104.3" lengthAdjust="spacingAndGlyphs" text-anchor="start">Выключатель</text>
<rect x="1047.4" y="691.4" width="107.39999999999986" height="2" fill="#000000"/>
<text x="105.9" y="834.4" font-family="Liberation Sans, sans-serif" font-size="14.2" font-weight="bold" fill="#000000" textLength="94.7" lengthAdjust="spacingAndGlyphs" text-anchor="start">Заземление</text>
<rect x="105.9" y="837.0" width="98.1" height="2" fill="#000000"/>
<text x="248.6" y="121.4" font-family="Liberation Sans, sans-serif" font-size="19.5" font-weight="bold" fill="#777777" textLength="55.2" lengthAdjust="spacingAndGlyphs" text-anchor="start">Кухня</text>
<rect x="248" y="122.7" width="59" height="2" fill="#777777"/>
<text x="243.4" y="512.1" font-family="Liberation Sans, sans-serif" font-size="19.5" font-weight="bold" fill="#777777" textLength="57.4" lengthAdjust="spacingAndGlyphs" text-anchor="start">Ванна</text>
<rect x="241" y="513.8" width="62.60000000000002" height="2" fill="#777777"/>
<text x="241.1" y="607.5" font-family="Liberation Sans, sans-serif" font-size="19.5" font-weight="bold" fill="#777777" textLength="66.1" lengthAdjust="spacingAndGlyphs" text-anchor="start">Туалет</text>
<rect x="240.2" y="610.0" width="69.80000000000001" height="2" fill="#777777"/>
<text x="573.8" y="561" font-family="Liberation Sans, sans-serif" font-size="19.5" font-weight="bold" fill="#777777" textLength="94.4" lengthAdjust="spacingAndGlyphs" text-anchor="start">Прихожая</text>
<rect x="571" y="563.0" width="98" height="2" fill="#777777"/>
<text x="1235.9" y="347.9" font-family="Liberation Sans, sans-serif" font-size="19.5" font-weight="bold" fill="#777777" textLength="34.2" lengthAdjust="spacingAndGlyphs" text-anchor="start">Зал</text>
<rect x="1229" y="350.0" width="42" height="2" fill="#777777"/>
<text x="1487.8" y="137.8" font-family="Liberation Sans, sans-serif" font-size="19.5" font-weight="bold" fill="#777777" textLength="81.6" lengthAdjust="spacingAndGlyphs" text-anchor="start">Детская</text>
<rect x="1486.6" y="145.4" width="86.40000000000009" height="2.4" fill="#777777"/>
<text x="1550.8" y="763.1" font-family="Liberation Sans, sans-serif" font-size="19.5" font-weight="bold" fill="#777777" textLength="86.7" lengthAdjust="spacingAndGlyphs" text-anchor="start">Спальня</text>
<rect x="1555.2" y="769.9" width="83.39999999999986" height="2.4" fill="#777777"/>
<text x="1284.1" y="833.7" font-family="Liberation Sans, sans-serif" font-size="27.8" font-weight="normal" fill="#bcbcbc" textLength="362.6" lengthAdjust="spacingAndGlyphs" text-anchor="start">Дом Мастер / masstter.com</text>
</svg>
</body></html>
